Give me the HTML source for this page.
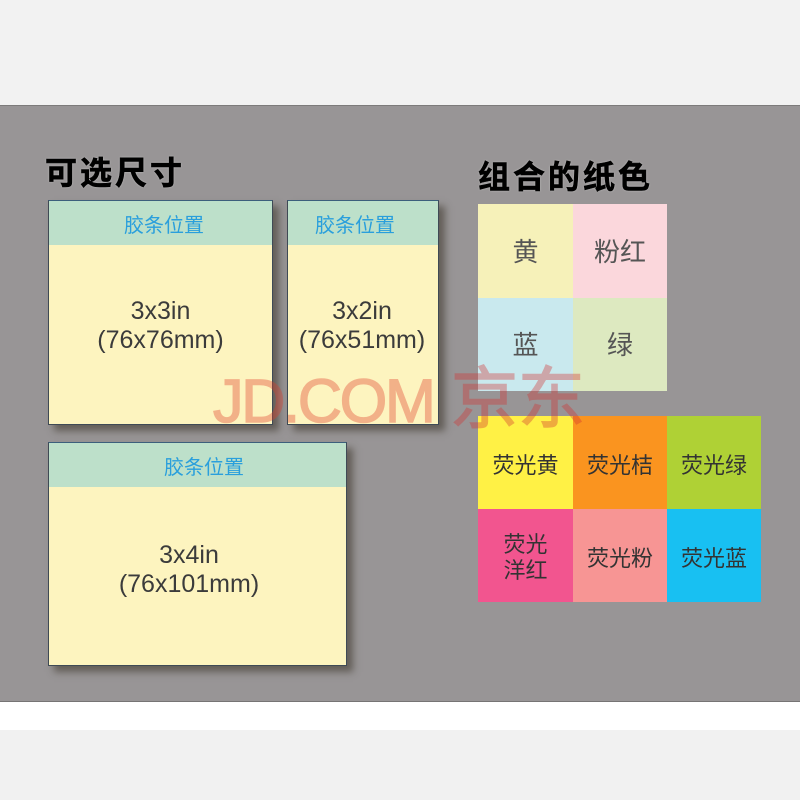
<!DOCTYPE html>
<html><head><meta charset="utf-8"><style>
html,body{margin:0;padding:0;width:800px;height:800px;overflow:hidden;background:#fff}
*{box-sizing:border-box}
body{position:relative;font-family:"Liberation Sans","Noto Sans CJK SC",sans-serif}
.a{position:absolute}
.card{position:absolute;background:#fdf4bf;border:1.5px solid #3f4a55;border-top-color:#3c5f7c;box-shadow:6px 6px 7px rgba(70,65,55,.65)}
.strip{position:absolute;left:0;right:0;top:0;height:44px;background:#bde0ca}
.strip span{position:absolute;top:0;width:100px;text-align:center;color:#2a9fdc;font-size:20px;line-height:51px}
.sz{position:absolute;left:0;right:0;text-align:center;color:#3b3b3b;font-size:25px;line-height:29px}
.t{position:absolute;font-size:32px;font-weight:bold;color:#000;line-height:38px;white-space:nowrap;-webkit-text-stroke:.6px #000;text-shadow:0 0 2px #ccc}
.c{position:absolute;display:flex;align-items:center;justify-content:center;text-align:center;color:#333;font-size:22px;line-height:26px;padding-top:7px}
.p{color:#555;font-size:26px;padding-top:1px}
</style></head><body>
<div class="a" style="left:0;top:0;width:800px;height:105px;background:#f2f2f2"></div>
<div class="a" style="left:0;top:105px;width:800px;height:597px;background:#989596;border-top:1px solid #7d7b7b;border-bottom:1px solid #767474"></div>
<div class="a" style="left:0;top:730px;width:800px;height:70px;background:#f1f1f1"></div>

<div class="t" style="left:45px;top:154px;letter-spacing:3px">可选尺寸</div>
<div class="t" style="left:478px;top:158px;letter-spacing:3px">组合的纸色</div>

<div class="card" style="left:48px;top:200px;width:225px;height:225px"><div class="strip"><span style="left:65px">胶条位置</span></div><div class="sz" style="top:96px">3x3in<br>(76x76mm)</div></div>
<div class="card" style="left:287px;top:200px;width:152px;height:225px"><div class="strip"><span style="left:17px">胶条位置</span></div><div class="sz" style="top:96px;left:-2px">3x2in<br>(76x51mm)</div></div>
<div class="card" style="left:48px;top:442px;width:299px;height:224px"><div class="strip"><span style="left:105px">胶条位置</span></div><div class="sz" style="top:98px;left:-17px">3x4in<br>(76x101mm)</div></div>

<div class="c p" style="left:478px;top:204px;width:95px;height:94px;background:#f6f1b9">黄</div>
<div class="c p" style="left:573px;top:204px;width:94px;height:94px;background:#fbd7dc">粉红</div>
<div class="c p" style="left:478px;top:298px;width:95px;height:93px;background:#c9e9ee">蓝</div>
<div class="c p" style="left:573px;top:298px;width:94px;height:93px;background:#dde9c0">绿</div>

<div class="c" style="left:478px;top:416px;width:95px;height:93px;background:#fff145">荧光黄</div>
<div class="c" style="left:573px;top:416px;width:94px;height:93px;background:#fa941f">荧光桔</div>
<div class="c" style="left:667px;top:416px;width:94px;height:93px;background:#afd135">荧光绿</div>
<div class="c" style="left:478px;top:509px;width:95px;height:93px;background:#f2558f;padding-top:5px">荧光<br>洋红</div>
<div class="c" style="left:573px;top:509px;width:94px;height:93px;background:#f79594">荧光粉</div>
<div class="c" style="left:667px;top:509px;width:94px;height:93px;background:#18c0f2">荧光蓝</div>

<div class="a" style="left:213px;top:366px;font-size:61px;line-height:70px;color:#e13c28;opacity:.36;letter-spacing:-2.2px;white-space:nowrap;-webkit-text-stroke:1.5px #e13c28">JD.COM</div>
<div class="a" style="left:451px;top:365px;font-size:67px;line-height:70px;color:#d23232;opacity:.36;white-space:nowrap;-webkit-text-stroke:1.5px #d23232">京东</div>
</body></html>
